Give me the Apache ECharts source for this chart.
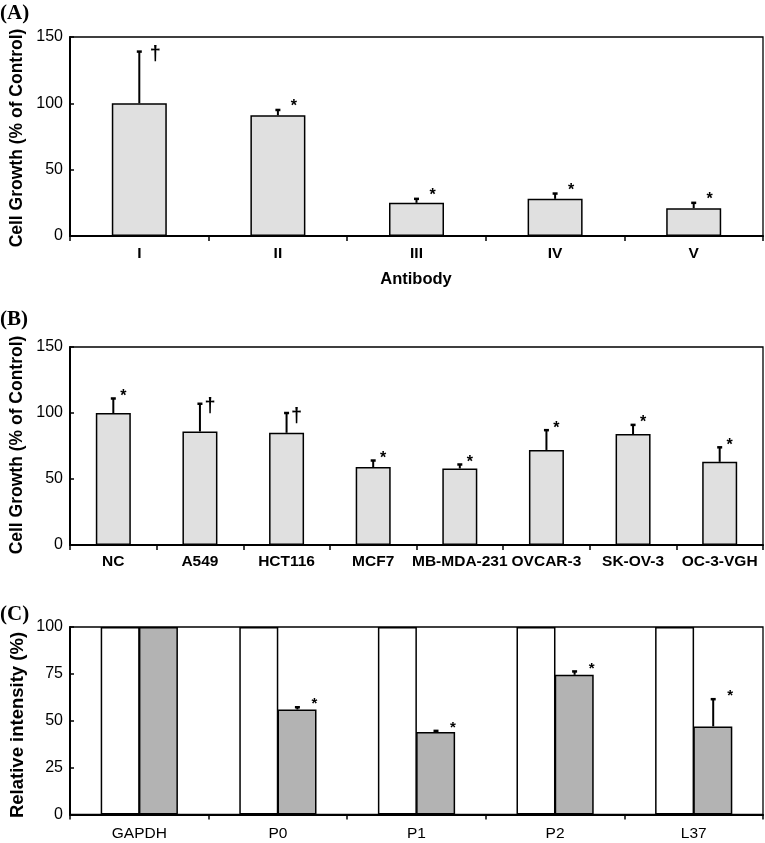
<!DOCTYPE html>
<html>
<head>
<meta charset="utf-8">
<script src="https://cdn.jsdelivr.net/npm/echarts@6/dist/echarts.min.js"></script>
<style>
html,body{margin:0;padding:0;background:#fff;}
#c{width:765px;height:843px;}
</style>
</head>
<body>
<div id="c"></div>
<script>
// Panel A
const catA = ['I', 'II', 'III', 'IV', 'V'];
const valA = [100, 91, 25, 28, 21];
const errA = [39, 4, 3, 4, 4];
const sigA = ['†', '*', '*', '*', '*'];
const ticksA = [0, 50, 100, 150];
// Panel B
const catB = ['NC', 'A549', 'HCT116', 'MCF7', 'MB-MDA-231', 'OVCAR-3', 'SK-OV-3', 'OC-3-VGH'];
const valB = [100, 86, 85, 59, 58, 72, 84, 63];
const errB = [11, 21, 15, 5, 3, 15, 7, 11];
const sigB = ['*', '†', '†', '*', '*', '*', '*', '*'];
const ticksB = [0, 50, 100, 150];
// Panel C
const catC = ['GAPDH', 'P0', 'P1', 'P2', 'L37'];
const refC = [100, 100, 100, 100, 100];
const valC = [100, 56, 44, 74.5, 47];
const errC = [null, 1.2, 0.6, 1.8, 14.5];
const sigC = ['', '*', '*', '*', '*'];
const ticksC = [0, 25, 50, 75, 100];

const FONT = '"Liberation Sans", Arial, sans-serif';
const SERIF = '"Liberation Serif", "Times New Roman", serif';

function errSeries(idx, cat, val, err, sig, dx, mdx, mdy, markSize) {
  return {
    type: 'custom', xAxisIndex: idx, yAxisIndex: idx, z: 10, silent: true,
    data: cat.map((c, i) => [i, val[i], err[i] == null ? 0 : err[i]]),
    renderItem: function (params, api) {
      const i = params.dataIndex;
      if (err[i] == null) return { type: 'group', children: [] };
      const b = api.coord([api.value(0), api.value(1)]);
      const t = api.coord([api.value(0), api.value(1) + api.value(2)]);
      const x = b[0] + dx;
      const ch = [
        { type: 'line', shape: { x1: x, y1: b[1], x2: x, y2: t[1] }, style: { stroke: '#000', lineWidth: 2 } },
        { type: 'line', shape: { x1: x - 2.5, y1: t[1], x2: x + 2.5, y2: t[1] }, style: { stroke: '#000', lineWidth: 2.5 } }
      ];
      if (sig[i]) {
        ch.push({ type: 'text', style: { x: x + mdx, y: t[1] + (sig[i] === '†' ? 3 : mdy), text: sig[i], fill: '#000',
          font: 'bold ' + (sig[i] === '†' ? markSize + 4 : markSize) + 'px ' + FONT, textAlign: 'center', textVerticalAlign: 'middle' } });
      }
      return { type: 'group', children: ch };
    }
  };
}

function xAx(idx, cat, bold, margin) {
  return {
    type: 'category', gridIndex: idx, data: cat,
    axisLine: { lineStyle: { color: '#000', width: 2 } },
    axisTick: { show: true, length: 5, inside: false, lineStyle: { color: '#000', width: 1.5 } },
    axisLabel: { color: '#000', fontFamily: FONT, fontSize: 15.5, fontWeight: bold ? 'bold' : 'normal', margin: margin, interval: 0 },
    splitLine: { show: false }
  };
}
function yAx(idx, ticks) {
  return {
    type: 'value', gridIndex: idx, min: ticks[0], max: ticks[ticks.length - 1], interval: ticks[1] - ticks[0],
    axisLine: { show: true, lineStyle: { color: '#000', width: 2 } },
    axisTick: { show: true, inside: true, length: 4, lineStyle: { color: '#000', width: 1.5 } },
    axisLabel: { color: '#000', fontFamily: FONT, fontSize: 16, margin: 7 },
    splitLine: { show: false }
  };
}
const gridBase = { left: 70, right: 2, show: true, borderColor: '#000', borderWidth: 1.3, backgroundColor: 'transparent' };

const chart = echarts.init(document.getElementById('c'), null, { renderer: 'canvas' });
chart.setOption({
  animation: false,
  backgroundColor: '#fff',
  grid: [
    Object.assign({ top: 37, height: 199 }, gridBase),
    Object.assign({ top: 347, height: 198 }, gridBase),
    Object.assign({ top: 627, height: 187.5 }, gridBase)
  ],
  xAxis: [xAx(0, catA, true, 10), xAx(1, catB, true, 9), xAx(2, catC, false, 11)],
  yAxis: [yAx(0, ticksA), yAx(1, ticksB), yAx(2, ticksC)],
  series: [
    { type: 'bar', xAxisIndex: 0, yAxisIndex: 0, data: valA, barWidth: 55,
      itemStyle: { color: '#e0e0e0', borderColor: '#000', borderWidth: 1.5 } },
    { type: 'bar', xAxisIndex: 1, yAxisIndex: 1, data: valB, barWidth: 35,
      itemStyle: { color: '#e0e0e0', borderColor: '#000', borderWidth: 1.5 } },
    { type: 'bar', xAxisIndex: 2, yAxisIndex: 2, data: refC, barWidth: 39, barGap: '-2%',
      itemStyle: { color: '#fff', borderColor: '#000', borderWidth: 1.5 } },
    { type: 'bar', xAxisIndex: 2, yAxisIndex: 2, data: valC, barWidth: 39, barGap: '-2%',
      itemStyle: { color: '#b3b3b3', borderColor: '#000', borderWidth: 1.5 } },
    errSeries(0, catA, valA, errA, sigA, 0, 16, -3, 16),
    errSeries(1, catB, valB, errB, sigB, 0, 10, -2, 16),
    errSeries(2, catC, valC, errC, sigC, 19.5, 17, -3, 15)
  ],
  graphic: [
    { type: 'text', left: 0, top: 3, style: { text: '(A)', font: 'bold 21px ' + SERIF, fill: '#000' } },
    { type: 'text', left: 0, top: 309, style: { text: '(B)', font: 'bold 21px ' + SERIF, fill: '#000' } },
    { type: 'text', left: 0, top: 604, style: { text: '(C)', font: 'bold 21px ' + SERIF, fill: '#000' } },
    { type: 'text', x: 17, y: 138, rotation: Math.PI / 2,
      style: { text: 'Cell Growth (% of Control)', font: 'bold 17.5px ' + FONT, fill: '#000', textAlign: 'center', textVerticalAlign: 'middle' } },
    { type: 'text', x: 17, y: 445, rotation: Math.PI / 2,
      style: { text: 'Cell Growth (% of Control)', font: 'bold 17.5px ' + FONT, fill: '#000', textAlign: 'center', textVerticalAlign: 'middle' } },
    { type: 'text', x: 18, y: 725, rotation: Math.PI / 2,
      style: { text: 'Relative intensity (%)', font: 'bold 18.5px ' + FONT, fill: '#000', textAlign: 'center', textVerticalAlign: 'middle' } },
    { type: 'text', x: 416, y: 279,
      style: { text: 'Antibody', font: 'bold 16.5px ' + FONT, fill: '#000', textAlign: 'center', textVerticalAlign: 'middle' } }
  ]
});
</script>
</body>
</html>
